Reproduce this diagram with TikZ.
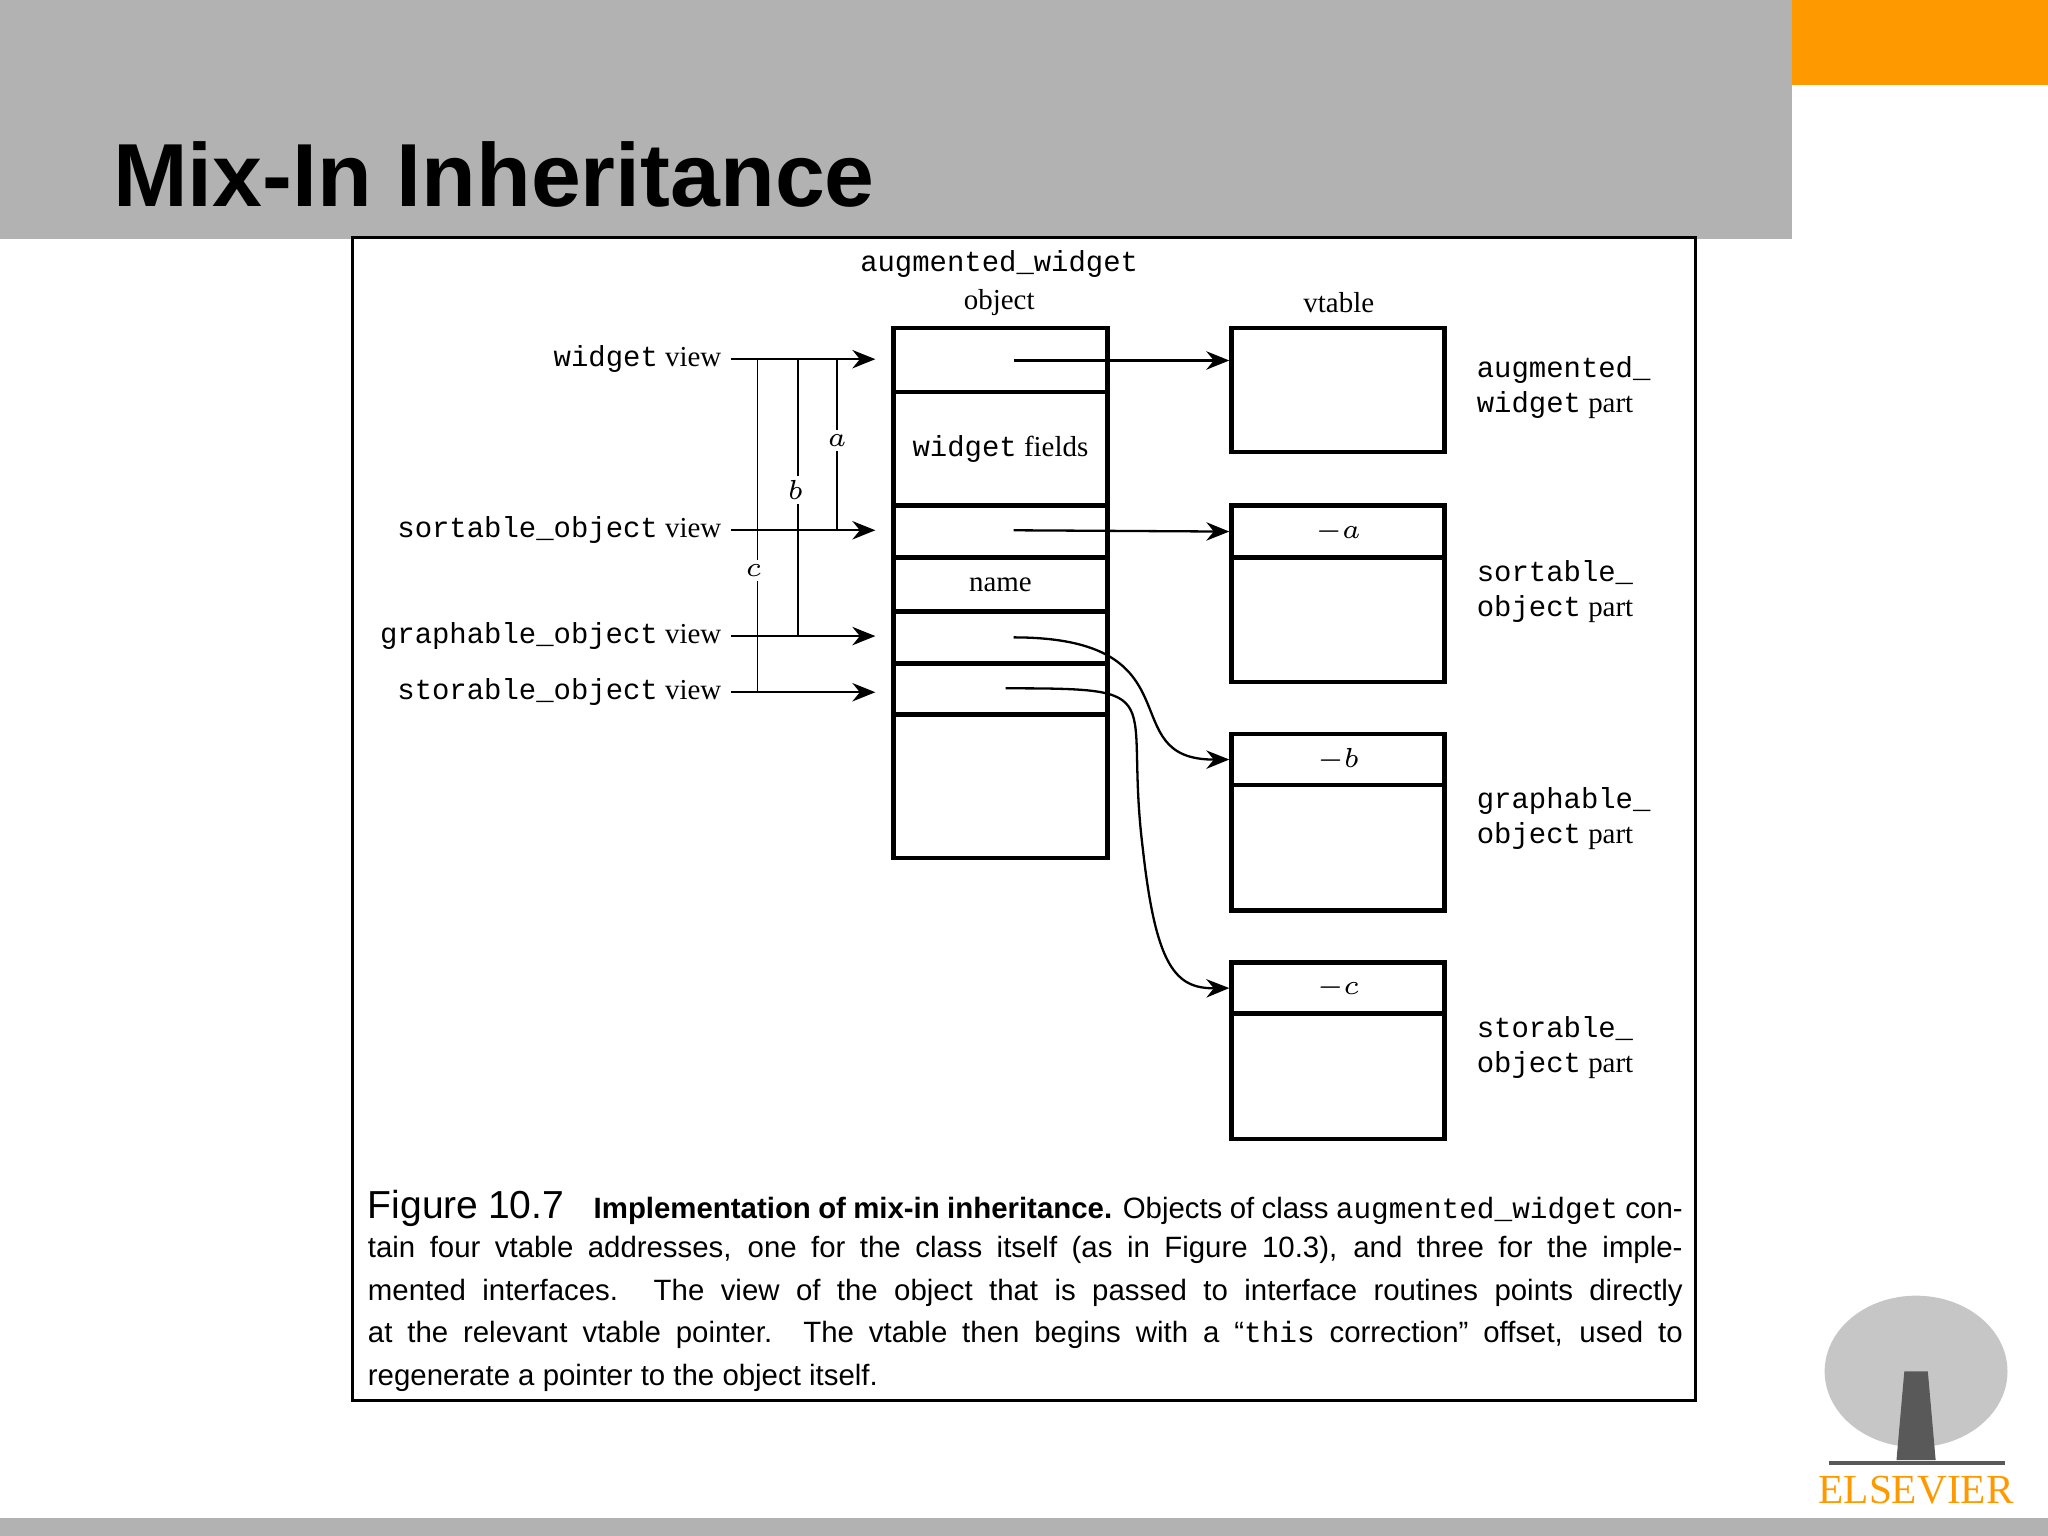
\documentclass[tikz,border=0pt]{standalone}
\usepackage{fontspec}
\setmainfont{Liberation Serif}
\setsansfont{Liberation Sans}
\setmonofont{Liberation Mono}
\usetikzlibrary{arrows.meta}
\definecolor{hdr}{HTML}{B2B2B2}
\definecolor{org}{HTML}{FF9900}
\newcommand\lblfont{\fontsize{6.3pt}{7.6pt}\selectfont}
\begin{document}
\begin{tikzpicture}[x=0.01cm,y=-0.01cm,
  bx/.style={draw,line width=1pt,inner sep=0pt,font=\lblfont},
  ob/.style={bx,minimum width=1.64cm},
  vb/.style={bx,minimum width=1.63cm},
  arr/.style={-{Stealth[length=5pt,width=4pt]},line width=0.5pt},
  lbl/.style={font=\lblfont,inner sep=0pt},
  rl/.style={lbl,anchor=west,align=left},
  captxt/.style={anchor=west,inner sep=0pt,font=\sffamily\fontsize{6.4pt}{8pt}\selectfont}]
\useasboundingbox (0,0) rectangle (1568,1176);
\fill[hdr] (0,0) rectangle (1372,183);
\fill[org] (1372,0) rectangle (1568,65);
\fill[hdr] (0,1162) rectangle (1568,1176);
\node[anchor=base west,inner sep=0pt,font=\sffamily\bfseries\fontsize{19.5pt}{24pt}\selectfont] (title) at (86,158) {Mix-In Inheritance};
\node[draw,line width=0.6pt,minimum width=10.28cm,minimum height=8.9cm,inner sep=0pt] (frame) at (784,627) {};
% object column
\node[ob,minimum height=0.49cm] (o1) at (766,275.5) {};
\node[ob,minimum height=0.87cm] (o2) at (766,343.5) {\texttt{widget} fields};
\node[ob,minimum height=0.40cm] (o3) at (766,407) {};
\node[ob,minimum height=0.41cm] (o4) at (766,447.5) {name};
\node[ob,minimum height=0.40cm] (o5) at (766,488) {};
\node[ob,minimum height=0.39cm] (o6) at (766,527.5) {};
\node[ob,minimum height=1.10cm] (o7) at (766,602) {};
\node[lbl] (hd1) at (765,202) {\texttt{augmented\_widget}};
\node[lbl] (hd2) at (765,232) {object};
\node[lbl] (hd3) at (1025,232) {vtable};
% vtables
\node[vb,minimum height=0.95cm] (v1) at (1024.5,298.5) {};
\node[vb,minimum height=0.40cm] (v2a) at (1024.5,407) {$\mathord{-}a$};
\node[vb,minimum height=0.95cm] (v2b) at (1024.5,474.5) {};
\node[vb,minimum height=0.39cm] (v3a) at (1024.5,581.5) {$\mathord{-}b$};
\node[vb,minimum height=0.96cm] (v3b) at (1024.5,649) {};
\node[vb,minimum height=0.39cm] (v4a) at (1024.5,756.5) {$\mathord{-}c$};
\node[vb,minimum height=0.96cm] (v4b) at (1024.5,824) {};
\node[rl] (r1) at (1130,297) {\texttt{augmented\_}\\\texttt{widget} part};
\node[rl] (r2) at (1130,453) {\texttt{sortable\_}\\\texttt{object} part};
\node[rl] (r3) at (1130,627) {\texttt{graphable\_}\\\texttt{object} part};
\node[rl] (r4) at (1130,802) {\texttt{storable\_}\\\texttt{object} part};
% views
\node[lbl,anchor=east] (w1) at (553,275) {\texttt{widget} view};
\node[lbl,anchor=east] (w2) at (553,406) {\texttt{sortable\_object} view};
\node[lbl,anchor=east] (w3) at (553,487) {\texttt{graphable\_object} view};
\node[lbl,anchor=east] (w4) at (553,530) {\texttt{storable\_object} view};
\foreach \w/\o in {w1/o1,w2/o3,w3/o5,w4/o6}
  \draw[arr,shorten <=0.07cm,shorten >=0.12cm] (\w.east) -- (\w.east -| \o.west);
% offset lines
\draw[line width=0.4pt] (580,275) -- (580,530) (611,275) -- (611,487) (641,275) -- (641,406);
\node[lbl,fill=white,inner sep=1pt] (la) at (641,337) {$a$};
\node[lbl,fill=white,inner sep=1pt] (lb) at (609,375) {$b$};
\node[lbl,fill=white,inner sep=1pt] (lc) at (577,437) {$c$};
% pointers
\coordinate (p1) at (776,276);
\coordinate (p2) at (776,406);
\coordinate (p3) at (776,488);
\coordinate (p4) at (770,527);
\draw[arr] (p1) -- (p1 -| v1.west);
\draw[arr] (p2) -- (v2a.west);
\draw[arr] (p3) .. controls (920,488) and (850,582) .. (v3a.west);
\draw[arr] (p4) .. controls (900,527) and (860,530) .. (875,650) .. controls (885,740) and (900,757) .. (v4a.west);
% caption
\node[captxt] (c1) at (281,925) {\makebox[10.06cm][s]{{\fontsize{8.5pt}{9pt}\selectfont Figure 10.7}\quad\textbf{Implementation of mix-in inheritance.} Objects of class \texttt{augmented\_widget} con-}};
\node[captxt] (c2) at (281,957) {\makebox[10.06cm][s]{tain four vtable addresses, one for the class itself (as in Figure 10.3), and three for the imple-}};
\node[captxt] (c3) at (281,990) {\makebox[10.06cm][s]{mented interfaces. The view of the object that is passed to interface routines points directly}};
\node[captxt] (c4) at (281,1022) {\makebox[10.06cm][s]{at the relevant vtable pointer. The vtable then begins with a ``\texttt{this} correction'' offset, used to}};
\node[captxt] (c5) at (281,1055) {regenerate a pointer to the object itself.};
% logo
\fill[gray!45] (1467,1050) ellipse (70 and 58);
\fill[gray!70!black] (1458,1050) -- (1476,1050) -- (1482,1118) -- (1452,1118) -- cycle;
\draw[gray!70!black,line width=1pt] (1400,1120) -- (1535,1120);
\node[text=org,font=\fontsize{9pt}{10pt}\selectfont,inner sep=0pt] (logo) at (1467,1141) {ELSEVIER};
\end{tikzpicture}
\end{document}
